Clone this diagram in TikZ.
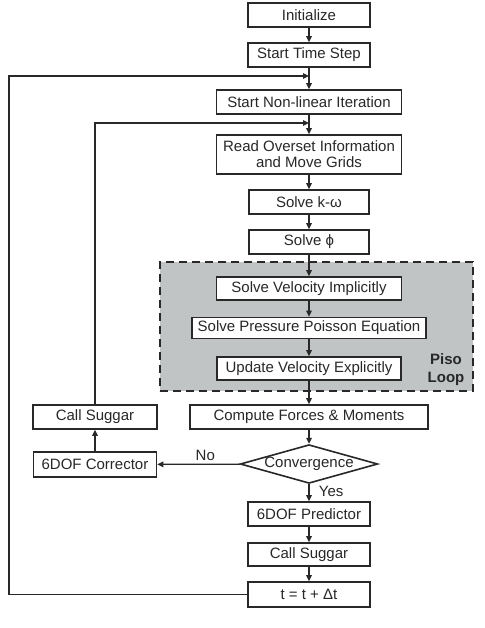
\documentclass[tikz,border=0pt]{standalone}
\usepackage{fontspec}
\setmainfont{Liberation Sans}
\usetikzlibrary{shapes.geometric,arrows.meta}
\definecolor{pisogray}{RGB}{192,196,196}
\definecolor{ink}{RGB}{40,40,40}
\begin{document}
\begin{tikzpicture}[x=1pt,y=-1pt,
  box/.style={draw=ink,line width=1.6pt,fill=white,inner sep=1pt,minimum height=24pt,font=\fontsize{15}{16}\selectfont,text=ink,align=center},
  arr/.style={draw=ink,line width=1.3pt,-{Triangle[length=6pt,width=5.5pt]}},
  lbl/.style={font=\fontsize{15}{16}\selectfont,text=ink}]
\useasboundingbox (0,0) rectangle (484,628);
\fill[white] (0,0) rectangle (484,628);
% Piso loop region
\node[draw=ink,dashed,dash pattern=on 8pt off 5pt,line width=1.8pt,fill=pisogray,minimum width=313pt,minimum height=129pt,inner sep=0pt] (piso) at (316.5,326.5) {};
\node[font=\bfseries\fontsize{15}{18}\selectfont,text=ink,align=center] (pisolbl) at (446,370) {Piso\\Loop};
% Main column
\node[box,minimum width=122pt] (init) at (309,15) {Initialize};
\node[box,minimum width=122pt] (sts) at (309,55) {Start Time Step};
\node[box,minimum width=185pt] (snl) at (309,102) {Start Non-linear Iteration};
\node[box,minimum width=185pt,minimum height=39pt] (rog) at (309,154.5) {Read Overset Information\\and Move Grids};
\node[box,minimum width=120pt] (ko) at (309,202) {Solve k-ω};
\node[box,minimum width=120pt] (phi) at (309,242) {Solve ϕ};
\node[box,minimum width=185pt,minimum height=23pt] (svi) at (309,288.5) {Solve Velocity Implicitly};
\node[box,minimum width=234pt,minimum height=21pt] (ppe) at (309,328) {Solve Pressure Poisson Equation};
\node[box,minimum width=184pt,minimum height=23pt] (uve) at (309,368.5) {Update Velocity Explicitly};
\node[box,minimum width=238pt] (cfm) at (309,417) {Compute Forces \& Moments};
\node[draw=ink,line width=1.6pt,fill=white,diamond,aspect=3.55,inner sep=0pt,minimum width=135pt,minimum height=38pt,font=\fontsize{15}{16}\selectfont,text=ink] (conv) at (309,464) {Convergence};
\node[box,minimum width=122pt] (pred) at (309,514) {6DOF Predictor};
\node[box,minimum width=122pt,minimum height=23pt] (cs2) at (309,554.5) {Call Suggar};
\node[box,minimum width=122pt,minimum height=25pt] (tt) at (309,594.5) {t = t + Δt};
% Left column
\node[box,minimum width=124pt] (cs1) at (95,417) {Call Suggar};
\node[box,minimum width=123pt,minimum height=25pt] (dof) at (95,464.5) {6DOF Corrector};
% loop coordinates
\coordinate (m1) at (309,76);
\coordinate (c1) at (9,76);
\coordinate (m2) at (309,123);
\coordinate (c2) at (95,123);
% connectors
\draw[arr] (init) -- (sts);
\draw[arr] (sts) -- (snl);
\draw[arr] (snl) -- (rog);
\draw[arr] (rog) -- (ko);
\draw[arr] (ko) -- (phi);
\draw[arr] (phi) -- (svi);
\draw[arr] (svi) -- (ppe);
\draw[arr] (ppe) -- (uve);
\draw[arr] (uve) -- (cfm);
\draw[arr] (cfm) -- (conv);
\draw[arr] (conv) -- node[lbl,right,pos=0.5,xshift=6pt,yshift=1pt] (yes) {Yes} (pred);
\draw[arr] (conv) -- node[lbl,above,pos=0.42] (no) {No} (dof);
\draw[arr] (pred) -- (cs2);
\draw[arr] (cs2) -- (tt);
\draw[arr] (dof) -- (cs1);
\draw[arr] (tt.west) -| (c1) -- (m1);
\draw[arr] (cs1.north) -- (c2) -- (m2);
\end{tikzpicture}
\end{document}
